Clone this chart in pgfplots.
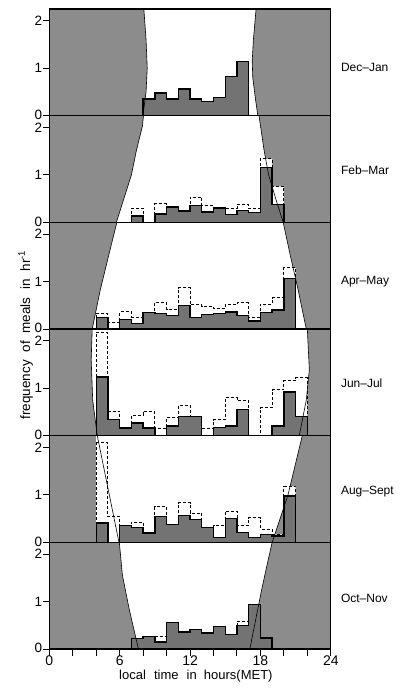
\documentclass[border=0pt]{standalone}
\usepackage{pgfplots}
\pgfplotsset{compat=1.18}
\usepackage{fontspec}
\setmainfont{Liberation Sans}

\definecolor{night}{gray}{0.55}
\definecolor{meal}{gray}{0.45}

\pgfplotsset{
  panel/.style={
    anchor=north west, scale only axis,
    width=281.5pt, height=106.67pt,
    xmin=0, xmax=24, ymin=0, ymax=2.25,
    clip=false, axis on top,
    axis line style={line width=1.1pt},
    ytick={0,1,2},
    yticklabels={\raisebox{1.8pt}{0},1,\raisebox{-1.8pt}{2}},
    ytick pos=left,
    tick align=outside, major tick length=6.5pt,
    tick style={line width=1pt, black},
    yticklabel style={font=\fontsize{13.5}{13.5}\selectfont, inner sep=0pt, xshift=-0.5pt},
    xticklabel style={font=\fontsize{14}{14}\selectfont, inner sep=0.5pt},
    xtick=\empty,
  },
  dark/.style={fill=night, draw=none},
  edge/.style={black, line width=0.6pt},
  total/.style={const plot, fill=white, draw=black, line width=0.9pt, dash pattern=on 3pt off 2pt},
  meals/.style={const plot, fill=meal, draw=black, line width=1.4pt},
}
\tikzset{season/.style={anchor=west, inner sep=0pt, xshift=10pt, font=\fontsize{12}{12}\selectfont}}

\begin{document}
\begin{tikzpicture}
\path[use as bounding box] (-49.3pt,9pt) rectangle (351.7pt,-679pt);

% Dec - Jan
\begin{axis}[panel, at={(0pt,0pt)}]
  \addplot[dark] coordinates {(0,0) (7.98,0) (8.25,0.5) (8.35,1.0) (8.25,1.6) (8.06,2.25) (0,2.25)} -- cycle;
  \addplot[dark] coordinates {(24,0) (17.78,0) (17.55,0.4) (17.35,0.8) (17.30,1.15) (17.40,1.6) (17.63,2.25) (24,2.25)} -- cycle;
  \addplot[meals] coordinates {(8,0.35) (9,0.48) (10,0.35) (11,0.56) (12,0.35) (13,0.30) (14,0.38) (15,0.83) (16,1.14) (17,1.14)} \closedcycle;
  \addplot[edge] coordinates {(7.98,0) (8.25,0.5) (8.35,1.0) (8.25,1.6) (8.06,2.25)};
  \addplot[edge] coordinates {(17.78,0) (17.55,0.4) (17.35,0.8) (17.30,1.15) (17.40,1.6) (17.63,2.25)};
  \node[season] at (axis cs:24,1.02) {Dec–Jan};
\end{axis}

% Feb - Mar
\begin{axis}[panel, at={(0pt,-106.67pt)}]
  \addplot[dark] coordinates {(0,0) (5.72,0) (6.32,0.47) (7.0,1.0) (7.43,1.52) (7.94,2.03) (8.03,2.25) (0,2.25)} -- cycle;
  \addplot[dark] coordinates {(24,0) (19.94,0) (19.34,0.47) (18.7,1.0) (18.31,1.52) (17.88,2.25) (24,2.25)} -- cycle;
  \addplot[total] coordinates {(7,0.30) (8,0) (9,0.39) (10,0.32) (11,0.24) (12,0.53) (13,0.36) (14,0.30) (15,0.29) (16,0.38) (17,0.29) (18,1.34) (19,0.76) (20,0.76)} \closedcycle;
  \addplot[meals] coordinates {(7,0.13) (8,0) (9,0.18) (10,0.32) (11,0.24) (12,0.36) (13,0.22) (14,0.30) (15,0.16) (16,0.25) (17,0.21) (18,1.16) (19,0.38) (20,0.38)} \closedcycle;
  \addplot[edge] coordinates {(5.72,0) (6.32,0.47) (7.0,1.0) (7.43,1.52) (7.94,2.03) (8.03,2.25)};
  \addplot[edge] coordinates {(19.94,0) (19.34,0.47) (18.7,1.0) (18.31,1.52) (17.88,2.25)};
  \node[season] at (axis cs:24,1.1) {Feb–Mar};
\end{axis}

% Apr - May
\begin{axis}[panel, at={(0pt,-213.33pt)}]
  \addplot[dark] coordinates {(0,0) (3.66,0) (4.34,0.82) (5.07,1.56) (5.76,2.25) (0,2.25)} -- cycle;
  \addplot[dark] coordinates {(24,0) (21.91,0) (21.22,0.82) (20.54,1.56) (19.94,2.25) (24,2.25)} -- cycle;
  \addplot[total] coordinates {(4,0.33) (5,0.13) (6,0.36) (7,0.25) (8,0.35) (9,0.56) (10,0.42) (11,0.87) (12,0.52) (13,0.47) (14,0.43) (15,0.52) (16,0.55) (17,0.24) (18,0.52) (19,0.66) (20,1.29) (21,1.29)} \closedcycle;
  \addplot[meals] coordinates {(4,0.24) (5,0) (6,0.20) (7,0.12) (8,0.35) (9,0.33) (10,0.28) (11,0.50) (12,0.24) (13,0.31) (14,0.33) (15,0.36) (16,0.29) (17,0.17) (18,0.35) (19,0.40) (20,1.06) (21,1.06)} \closedcycle;
  \addplot[edge] coordinates {(3.66,0) (4.34,0.82) (5.07,1.56) (5.76,2.25)};
  \addplot[edge] coordinates {(21.91,0) (21.22,0.82) (20.54,1.56) (19.94,2.25)};
  \node[season] at (axis cs:24,1.0) {Apr–May};
\end{axis}

% Jun - Jul
\begin{axis}[panel, at={(0pt,-320pt)}]
  \addplot[dark] coordinates {(0,0) (4.09,0) (3.70,0.75) (3.57,1.6) (3.66,2.25) (0,2.25)} -- cycle;
  \addplot[dark] coordinates {(24,0) (21.31,0) (21.91,0.75) (22.17,1.39) (22.0,2.25) (24,2.25)} -- cycle;
  \addplot[total] coordinates {(4,2.17) (5,0.51) (6,0.16) (7,0.43) (8,0.51) (9,0.16) (10,0.39) (11,0.64) (12,0.41) (13,0.15) (14,0.34) (15,0.80) (16,0.74) (17,0) (18,0.59) (19,0.97) (20,1.16) (21,1.22) (22,1.22)} \closedcycle;
  \addplot[meals] coordinates {(4,1.24) (5,0.34) (6,0.16) (7,0.27) (8,0.16) (9,0) (10,0.20) (11,0.41) (12,0.41) (13,0) (14,0.17) (15,0.20) (16,0.55) (17,0) (18,0) (19,0.20) (20,0.92) (21,0.41) (22,0.41)} \closedcycle;
  \addplot[edge] coordinates {(4.09,0) (3.70,0.75) (3.57,1.6) (3.66,2.25)};
  \addplot[edge] coordinates {(21.31,0) (21.91,0.75) (22.17,1.39) (22.0,2.25)};
  \node[season] at (axis cs:24,1.1) {Jun–Jul};
\end{axis}

% Aug - Sept
\begin{axis}[panel, at={(0pt,-426.67pt)}]
  \addplot[dark] coordinates {(0,0) (4,0) (4,2.25) (0,2.25)} -- cycle;
  \addplot[dark] coordinates {(24,0) (19.0,0) (20.35,1.0) (21.57,2.25) (24,2.25)} -- cycle;
  \addplot[total] coordinates {(4,2.11) (5,0.55) (6,0.35) (7,0.43) (8,0.20) (9,0.75) (10,0.38) (11,0.84) (12,0.62) (13,0.31) (14,0.35) (15,0.66) (16,0.35) (17,0.52) (18,0.28) (19,0.17) (20,1.18) (21,1.18)} \closedcycle;
  \addplot[meals] coordinates {(4,0.41) (5,0) (6,0.35) (7,0.31) (8,0.20) (9,0.54) (10,0.38) (11,0.57) (12,0.48) (13,0.31) (14,0.10) (15,0.50) (16,0.21) (17,0.10) (18,0.17) (19,0.13) (20,0.98) (21,0.98)} \closedcycle;
  \addplot[edge] coordinates {(4.09,2.25) (5.94,0)};
  \addplot[edge] coordinates {(19.0,0) (20.35,1.0) (21.57,2.25)};
  \node[season] at (axis cs:24,1.07) {Aug–Sept};
\end{axis}

% Oct - Nov
\begin{axis}[panel, at={(0pt,-533.33pt)},
    xtick={0,2,...,24}, xticklabels={0,,,6,,,12,,,18,,,24}, xtick pos=bottom]
  \addplot[dark] coordinates {(0,0) (7.6,0) (6.83,0.82) (6.23,1.56) (5.97,2.25) (0,2.25)} -- cycle;
  \addplot[dark] coordinates {(24,0) (17.1,0) (17.5,0.5) (18.06,1.2) (18.5,1.7) (19.0,2.25) (24,2.25)} -- cycle;
  \addplot[total] coordinates {(7,0.22) (8,0.26) (9,0.26) (10,0.56) (11,0.36) (12,0.41) (13,0.34) (14,0.48) (15,0.31) (16,0.59) (17,0.94) (18,0.23) (19,0.23)} \closedcycle;
  \addplot[meals] coordinates {(7,0.22) (8,0.26) (9,0.15) (10,0.56) (11,0.36) (12,0.41) (13,0.34) (14,0.48) (15,0.31) (16,0.49) (17,0.94) (18,0.23) (19,0.23)} \closedcycle;
  \addplot[edge] coordinates {(7.6,0) (6.83,0.82) (6.23,1.56) (5.97,2.25)};
  \addplot[edge] coordinates {(17.1,0) (17.5,0.5) (18.06,1.2) (18.5,1.7) (19.0,2.25)};
  \node[season] at (axis cs:24,1.07) {Oct–Nov};
  \node[font=\fontsize{13}{13}\selectfont, inner sep=0pt] at (axis cs:12.5,0) [yshift=-27pt]
    {local\hspace{4.5pt} time\hspace{4.5pt} in\hspace{3.5pt} hours(MET)};
\end{axis}

\node[rotate=90, font=\fontsize{13.5}{13.5}\selectfont, inner sep=0pt] at (-23.6pt,-326pt)
  {frequency\hspace{4pt} of\hspace{4pt} meals\hspace{4pt} in\hspace{4pt} hr\textsuperscript{-1}};
\end{tikzpicture}
\end{document}
